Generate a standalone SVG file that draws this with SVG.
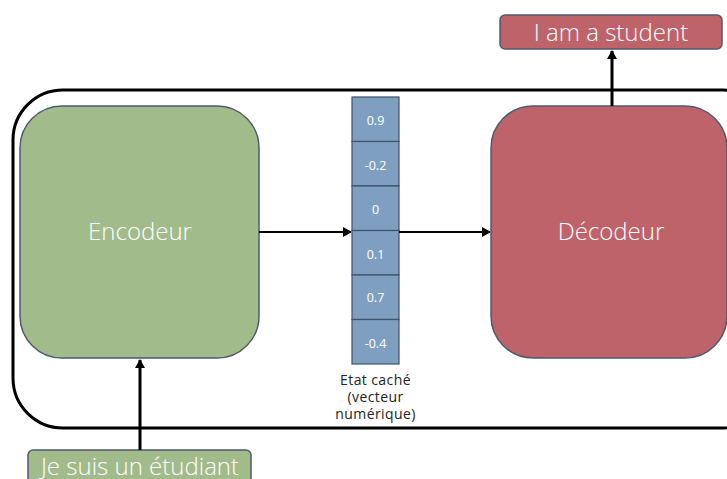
<svg xmlns="http://www.w3.org/2000/svg" width="727" height="479" viewBox="0 0 727 479">
<defs>
<style>
.box{stroke:#4d5b6b;stroke-width:1.5}
.green{fill:#a2bb8b}
.red{fill:#bf636b}
.cell{fill:#7f9fc1;stroke:#3f5268;stroke-width:1.2}
.big{font-family:"Open Sans","DejaVu Sans",sans-serif;font-weight:300;fill:#ffffff;font-size:24px;text-anchor:middle}
.num{font-family:"Open Sans","DejaVu Sans",sans-serif;fill:#ffffff;font-size:12.5px;text-anchor:middle}
.cap{font-family:"Open Sans","DejaVu Sans",sans-serif;fill:#222222;font-size:14px;letter-spacing:0.4px;text-anchor:middle}
.conn{stroke:#000;stroke-width:3;fill:none}
.conn2{stroke:#000;stroke-width:2;fill:none}
</style>
<marker id="ah" markerWidth="10" markerHeight="10" refX="8" refY="5" orient="auto" markerUnits="userSpaceOnUse">
<path d="M0,0 L9,5 L0,10 Z" fill="#000"/>
</marker>
</defs>
<rect width="727" height="479" fill="#ffffff"/>
<g id="frame">
<rect x="13" y="90" width="760" height="338" rx="50" ry="50" fill="none" stroke="#000" stroke-width="3"/>
</g>
<g id="encodeur">
<rect class="box green" x="20" y="106" width="239" height="252" rx="42" ry="42"/>
<text class="big" x="140" y="240">Encodeur</text>
</g>
<g id="decodeur">
<rect class="box red" x="491" y="106" width="236" height="252" rx="42" ry="42"/>
<text class="big" x="611" y="240">Décodeur</text>
</g>
<g id="vecteur">
<rect class="cell" x="352" y="97" width="47" height="44.5"/>
<rect class="cell" x="352" y="141.5" width="47" height="44.5"/>
<rect class="cell" x="352" y="186" width="47" height="44.5"/>
<rect class="cell" x="352" y="230.5" width="47" height="44.5"/>
<rect class="cell" x="352" y="275" width="47" height="44.5"/>
<rect class="cell" x="352" y="319.5" width="47" height="44.5"/>
<text class="num" x="375.5" y="125">0.9</text>
<text class="num" x="375.5" y="170">-0.2</text>
<text class="num" x="375.5" y="214">0</text>
<text class="num" x="375.5" y="259">0.1</text>
<text class="num" x="375.5" y="302">0.7</text>
<text class="num" x="375.5" y="348">-0.4</text>
<text class="cap" x="375.5" y="385">Etat caché</text>
<text class="cap" x="375.5" y="402">(vecteur</text>
<text class="cap" x="375.5" y="419">numérique)</text>
</g>
<g id="sortie">
<rect class="box red" x="500" y="15" width="222" height="34" rx="5" ry="5"/>
<text class="big" x="611" y="41">I am a student</text>
</g>
<g id="entree">
<rect class="box green" x="28" y="450" width="223" height="40" rx="5" ry="5"/>
<text class="big" x="140" y="475">Je suis un étudiant</text>
</g>
<g id="connectors">
<line class="conn2" x1="259" y1="232" x2="351" y2="232" marker-end="url(#ah)"/>
<line class="conn2" x1="399" y1="232" x2="490" y2="232" marker-end="url(#ah)"/>
<line class="conn" x1="612" y1="106" x2="612" y2="51" marker-end="url(#ah)"/>
<line class="conn" x1="140" y1="450" x2="140" y2="360" marker-end="url(#ah)"/>
</g>
</svg>
